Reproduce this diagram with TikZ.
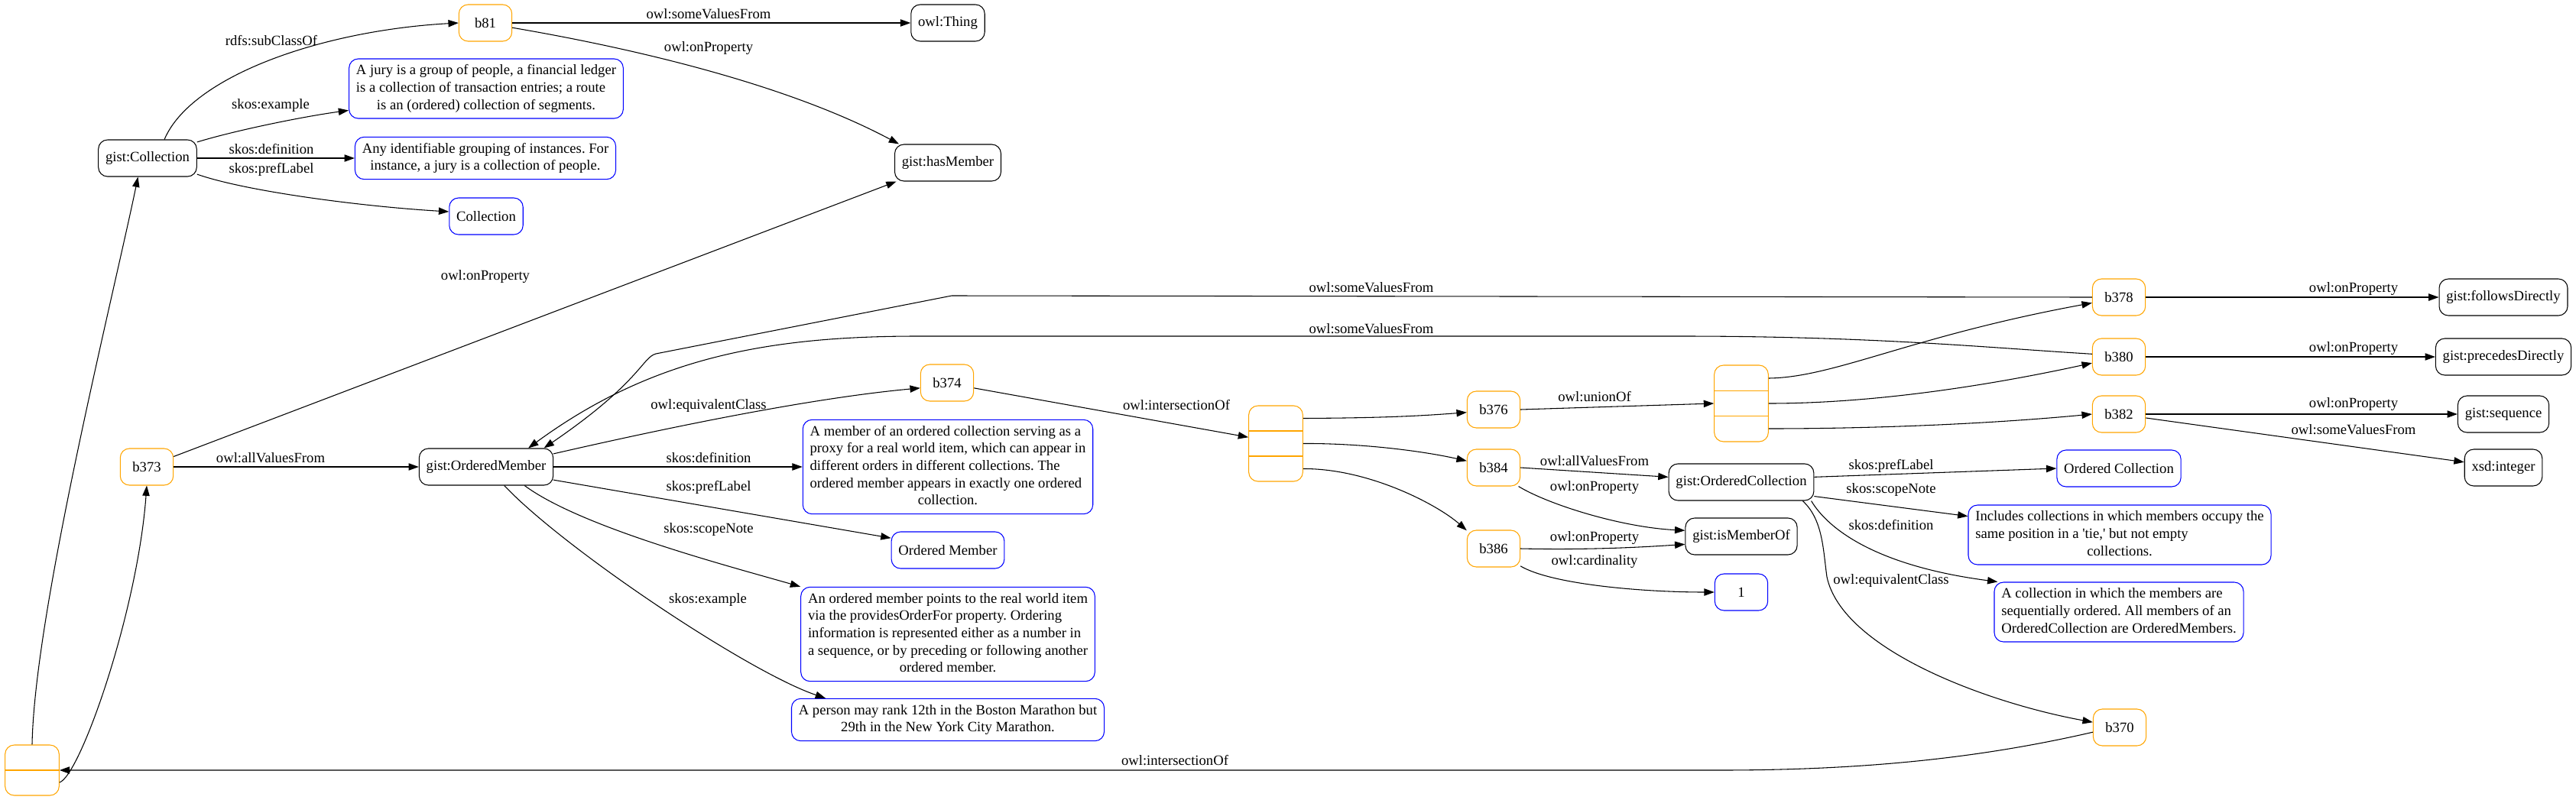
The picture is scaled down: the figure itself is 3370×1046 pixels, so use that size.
\documentclass[tikz,border=0pt]{standalone}
\usepackage{fontspec}
\setmainfont{Liberation Serif}
\usetikzlibrary{arrows.meta,calc}
\definecolor{bnodecol}{HTML}{FFA500}
\definecolor{litcol}{HTML}{0000FF}
\newcommand{\lastln}[1]{\multicolumn{1}{@{}c@{}}{#1}}
\newcommand{\boxlines}[1]{\begin{tabular}{@{}l@{}}#1\end{tabular}}
\frenchspacing

\begin{document}
\begin{tikzpicture}[x=0.75pt,y=-0.75pt, >={Triangle[length=10pt,width=7pt]},
    font=\fontsize{14pt}{17pt}\selectfont, line width=0.8pt,
    res/.style={draw,rounded corners=9pt,minimum width=52pt,minimum height=36pt,
      inner xsep=7pt,inner ysep=3.75pt},
    bnode/.style={res,draw=bnodecol},
    lit/.style={res,draw=litcol},
    rec/.style={draw=bnodecol,rounded corners=9pt,minimum width=53pt,inner sep=0pt},
    lbl/.style={inner sep=0pt}]
  \useasboundingbox (0,0) rectangle (3370,1046);
  % gist:Collection
  \node[res] (coll) at (193,207) {gist:Collection};
  \node[bnode] (b81) at (635,30) {b81};
  \node[res] (thing) at (1240,30) {owl:Thing};
  \node[res] (hasmem) at (1240,213) {gist:hasMember};
  \node[lit] (jury) at (636,116) {\boxlines{A jury is a group of people, a financial ledger\\
    is a collection of transaction entries; a route\\
    \lastln{is an (ordered) collection of segments.}}};
  \node[lit] (colldef) at (635,207) {\boxlines{Any identifiable grouping of instances. For\\
    \lastln{instance, a jury is a collection of people.}}};
  \node[lit] (colllab) at (636,283) {Collection};
  % gist:OrderedMember
  \node[bnode] (b373) at (192,611) {b373};
  \node[res] (om) at (636,611) {gist:OrderedMember};
  \node[bnode] (b374) at (1239,501) {b374};
  \node[lit] (omdef) at (1240,611) {\boxlines{A member of an ordered collection serving as a\\
    proxy for a real world item, which can appear in\\
    different orders in different collections. The\\
    ordered member appears in exactly one ordered\\
    \lastln{collection.}}};
  \node[lit] (omlab) at (1240,720) {Ordered Member};
  \node[lit] (omnote) at (1240,830) {\boxlines{An ordered member points to the real world item\\
    via the providesOrderFor property. Ordering\\
    information is represented either as a number in\\
    a sequence, or by preceding or following another\\
    \lastln{ordered member.}}};
  \node[lit] (omex) at (1240,942) {\boxlines{A person may rank 12th in the Boston Marathon but\\
    \lastln{29th in the New York City Marathon.}}};
  % lists
  \node[rec,minimum height=49.5pt] (lst) at (42,1008) {};
  \draw[bnodecol] (lst.west) -- (lst.east);
  \node[rec,minimum height=74.25pt] (isect) at (1669,580.5) {};
  \draw[bnodecol] ($(isect.west)+(0,-16.5)$) -- ($(isect.east)+(0,-16.5)$);
  \draw[bnodecol] ($(isect.west)+(0,16.5)$) -- ($(isect.east)+(0,16.5)$);
  \node[rec,minimum height=75pt] (union) at (2278,528) {};
  \draw[bnodecol] ($(union.west)+(0,-16.7)$) -- ($(union.east)+(0,-16.7)$);
  \draw[bnodecol] ($(union.west)+(0,16.7)$) -- ($(union.east)+(0,16.7)$);
  \node[bnode] (b376) at (1954,536) {b376};
  \node[bnode] (b384) at (1954,612) {b384};
  \node[bnode] (b386) at (1954,718) {b386};
  \node[res] (oc) at (2278,631) {gist:OrderedCollection};
  \node[res] (ismem) at (2278,702) {gist:isMemberOf};
  \node[lit] (one) at (2278,775) {1};
  \node[bnode] (b378) at (2772,389) {b378};
  \node[bnode] (b380) at (2772,467) {b380};
  \node[bnode] (b382) at (2772,542) {b382};
  \node[lit] (oclab) at (2772,613) {Ordered Collection};
  \node[lit] (ocnote) at (2773,700) {\boxlines{Includes collections in which members occupy the\\
    same position in a \textquotesingle tie,\textquotesingle{} but not empty\\
    \lastln{collections.}}};
  \node[lit] (ocdef) at (2772,801) {\boxlines{A collection in which the members are\\
    sequentially ordered. All members of an\\
    \lastln{OrderedCollection are OrderedMembers.}}};
  \node[bnode] (b370) at (2773,952) {b370};
  \node[res] (follows) at (3275,389) {gist:followsDirectly};
  \node[res] (precedes) at (3275,467) {gist:precedesDirectly};
  \node[res] (seq) at (3275,542) {gist:sequence};
  \node[res] (int) at (3275,612) {xsd:integer};

  % edges
  \draw[->] (coll.48) .. controls (250,100) and (420,40) .. (b81.west)
    node[lbl] at (355,53) {rdfs:subClassOf};
  \draw[->] (coll.18) .. controls (310,170) and (400,152) .. (jury.189)
    node[lbl] at (354,138) {skos:example};
  \draw[->] (coll.east) -- (colldef.west) node[lbl] at (355,195) {skos:definition};
  \draw[->] (coll.342) .. controls (320,250) and (470,270) .. (colllab.173)
    node[lbl] at (355,222) {skos:prefLabel};
  \draw[->] (b81.east) -- (thing.west) node[lbl] at (927,18) {owl:someValuesFrom};
  \draw[->] (b81.350) .. controls (780,55) and (1010,100) .. (hasmem.159)
    node[lbl] at (927,63) {owl:onProperty};
  \draw[->] (b373.21) -- (hasmem.200) node[lbl] at (635,362) {owl:onProperty};
  \draw[->] (b373.east) -- (om.west) node[lbl] at (354,599) {owl:allValuesFrom};
  \draw[->] (lst.north) .. controls (45,800) and (150,380) .. (coll.243);
  \draw[->] ($(lst.east)+(0,16)$) .. controls (105,1015) and (180,800) .. (b373.south);
  \draw[->] (b370.190) .. controls (2600,990) and (2450,1008) .. (2250,1008) -- (lst.east)
    node[lbl] at (1537,995) {owl:intersectionOf};
  \draw[->] (om.11) .. controls (850,565) and (1050,522) .. (b374.191)
    node[lbl] at (927,531) {owl:equivalentClass};
  \draw[->] (om.east) -- (omdef.west) node[lbl] at (927,599) {skos:definition};
  \draw[->] (om.349) -- (omlab.168) node[lbl] at (927,638) {skos:prefLabel};
  \draw[->] (om.334) .. controls (760,690) and (950,740) .. (omnote.north west)
    node[lbl] at (927,693) {skos:scopeNote};
  \draw[->] (om.314) .. controls (740,720) and (980,880) .. (omex.170)
    node[lbl] at (926,785) {skos:example};
  \draw[->] (b374.349) -- (isect.167) node[lbl] at (1539,530) {owl:intersectionOf};
  \draw[->] ($(isect.east)+(0,-33)$) .. controls (1800,547) and (1850,545) .. (b376.186);
  \draw[->] (isect.east) .. controls (1780,580) and (1860,590) .. (b384.166);
  \draw[->] ($(isect.east)+(0,33)$) .. controls (1790,613) and (1880,660) .. (b386.146);
  \draw[->] (b376.east) -- (union.west) node[lbl] at (2086,519) {owl:unionOf};
  \draw[->] (b384.east) -- (oc.176) node[lbl] at (2086,603) {owl:allValuesFrom};
  \draw[->] (b384.323) .. controls (2025,660) and (2120,690) .. (ismem.174)
    node[lbl] at (2086,638) {owl:onProperty};
  \draw[->] (b386.east) .. controls (2080,720) and (2150,716) .. (ismem.188)
    node[lbl] at (2086,704) {owl:onProperty};
  \draw[->] (b386.327) .. controls (2030,765) and (2150,775) .. (one.west)
    node[lbl] at (2086,735) {owl:cardinality};
  \draw[->] ($(union.east)+(0,-33)$) .. controls (2400,494) and (2500,440) .. (b378.192);
  \draw[->] (union.east) .. controls (2450,528) and (2600,505) .. (b380.193);
  \draw[->] ($(union.east)+(0,33)$) .. controls (2450,561) and (2600,555) .. (b382.west);
  \draw[->] (b378.west) -- (1245,387) -- (858,463) .. controls (840,468) and (838,500) .. (om.18)
    node[lbl] at (1794,376) {owl:someValuesFrom};
  \draw[->] (b380.174) .. controls (2600,455) and (2450,440) .. (2200,440) -- (1200,440)
    .. controls (1000,440) and (850,470) .. (om.24)
    node[lbl] at (1794,430) {owl:someValuesFrom};
  \draw[->] (b378.east) -- (follows.west) node[lbl] at (3079,378) {owl:onProperty};
  \draw[->] (b380.east) -- (precedes.west) node[lbl] at (3079,456) {owl:onProperty};
  \draw[->] (b382.east) -- (seq.west) node[lbl] at (3079,529) {owl:onProperty};
  \draw[->] (b382.352) -- (int.172) node[lbl] at (3079,562) {owl:someValuesFrom};
  \draw[->] (oc.4) -- (oclab.west) node[lbl] at (2474,610) {skos:prefLabel};
  \draw[->] (oc.349) -- (ocnote.173) node[lbl] at (2474,641) {skos:scopeNote};
  \draw[->] (oc.345) .. controls (2390,690) and (2450,740) .. (ocdef.166)
    node[lbl] at (2474,687) {skos:definition};
  \draw[->] (oc.343) .. controls (2385,680) and (2385,720) .. (2390,755)
    .. controls (2410,850) and (2600,920) .. (b370.169)
    node[lbl] at (2474,760) {owl:equivalentClass};
\end{tikzpicture}
\end{document}
